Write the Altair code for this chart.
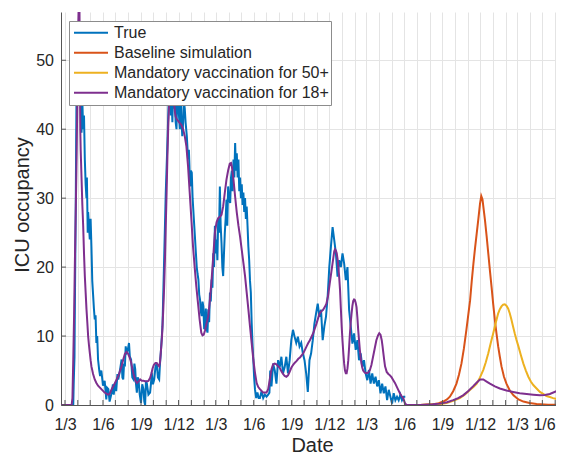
import altair as alt
import pandas as pd

BASE = pd.Timestamp("2020-03-01")

# ---- data (day offsets from 2020-03-01, ICU occupancy) ----
true_day = [-10, 20, 21, 23, 24, 26, 27, 28, 30, 32, 34, 36, 38, 40, 42, 44, 46, 48, 50, 52, 53, 55, 56, 58,
            60, 62, 64, 66, 68, 70, 72, 74, 76, 78, 80, 83, 85, 88, 92, 96, 100, 102, 105, 108, 110, 113,
            116, 118, 121, 124, 127, 129, 133, 137, 139, 141, 143, 145, 147, 149, 152, 155, 157, 160, 163,
            166, 168, 170, 172, 174, 176, 178, 181, 184, 187, 190, 192, 194, 196, 198, 202, 206, 208, 210,
            213, 216, 219, 222, 225, 228, 230, 232, 236, 240, 244, 248, 251, 254, 256, 258, 260, 262, 264,
            266, 268, 270, 272, 274, 276, 278, 280, 282, 284, 286, 288, 290, 292, 295, 298, 300, 303, 305,
            307, 309, 311, 313, 315, 317, 319, 321, 323, 325, 327, 329, 331, 333, 335, 337, 339, 341, 343,
            345, 347, 349, 351, 353, 355, 357, 359, 361, 363, 365, 367, 369, 371, 373, 375, 377, 379, 381,
            383, 385, 387, 389, 391, 393, 395, 397, 400, 402, 404, 406, 408, 410, 412, 414, 416, 418, 420,
            422, 424, 426, 428, 430, 432, 434, 436, 438, 440, 442, 444, 446, 448, 450, 452, 454, 456, 458,
            460, 463, 466, 469, 472, 476, 480, 484, 488, 492, 495, 497, 500, 504, 508, 512, 516, 520, 524,
            528, 532, 536, 540, 544, 548, 552, 556, 560, 564, 568, 572, 576, 580, 584, 588, 592, 596, 600,
            604, 608, 612, 616, 620, 624, 628, 632, 636, 640, 644, 648, 652, 656, 660, 664, 668, 672, 676,
            680, 684, 688, 692, 696, 700, 704, 708, 712, 716, 720, 724, 728, 732, 736, 740, 744, 748, 752,
            756, 760, 764, 768, 772, 776, 780, 784, 788, 792, 796, 800, 804, 808, 812, 816, 820, 824]
true_val = [0, 0, 3, 7, 15, 29, 38, 46, 51, 47, 53, 45, 49, 39.5, 44, 40, 42, 35.6, 32, 30, 33, 25, 28, 26,
            24, 27, 23, 18, 16, 14, 12.4, 13, 9, 10, 6.6, 5, 4.2, 5, 2.8, 3.5, 0.8, 2.5, 2.3, 0.5, 1, 1.8,
            3, 1.5, 3.2, 2, 4.5, 3.7, 5, 6.6, 4, 3.7, 6, 5.6, 8.5, 7.6, 8, 9, 7, 6.6, 4,
            3.7, 6, 5.2, 3, 1.8, 4, 3.7, 1.5, 0.3, 3, 2.3, 0.5, 0, 3.5, 3.2, 1.5, 1.8, 3, 4.7,
            3, 3.7, 5.5, 6.1, 4, 3.7, 6, 7.6, 11.4, 21, 30.8, 38, 44, 46, 42, 45, 41, 46, 43,
            44, 41, 40, 45, 44.6, 42, 40, 47, 41.4, 39, 40.9, 44, 43, 41, 39, 35.6, 37, 31.7, 34,
            33.7, 30, 28, 26, 24, 22, 20, 19, 18.2, 16, 15.3, 13.5, 12.9, 15, 14.3, 11, 12.4, 14, 11,
            10.5, 13.9, 12, 16.3, 15, 18.2, 17, 22, 20, 26, 22, 24, 21, 27, 25, 31.7, 26, 23.5, 20,
            18.7, 22, 25, 27, 29.8, 26, 31.7, 30, 29.3, 33, 34, 31, 35.6, 33, 38, 34, 36.5, 33, 35.6,
            31, 33, 30, 32, 29, 30.8, 28, 30, 27, 28.8, 26, 23, 21, 18, 16.3, 12, 9, 6.6, 4,
            2.3, 1, 1.8, 1, 1, 2, 1, 1.5, 1.2, 1.5, 1.8, 5, 2.7, 6, 5, 3.1, 6.5, 5.5, 7,
            4.6, 5.5, 7, 4.6, 6.5, 9.4, 10.9, 9.9, 9, 9.9, 8.5, 9, 7.5, 6.5, 4.6, 1.9, 6.5, 7.5, 9.4,
            11.8, 13.3, 14.7, 12.8, 13.8, 9.4, 11.4, 12.8, 15.7, 20, 23, 25.8, 23.9, 22, 18.6, 21, 20, 22, 20.5,
            18.1, 20, 13.8, 11.4, 8.9, 10.4, 8, 9.4, 6.5, 7.5, 5.5, 6.5, 4.6, 3.6, 5.1, 3.1, 4.6, 3.1, 4.1,
            2.7, 3.6, 1.7, 3.1, 1.7, 2.7, 0.7, 2.2, 1.2, 0.2, 1.7, 0.7, 1.2, 0.7, 1.5, 0.7, 1.2, 1.2]

vac18_day = [-10, 16, 18, 20, 22, 24, 26, 28, 30, 32, 34, 35, 36, 37, 38, 40, 42, 44, 46, 48, 50, 52, 54, 56,
             58, 60, 62, 64, 68, 72, 76, 80, 88, 96, 104, 108, 113, 117, 121, 125, 129, 133, 137, 141, 145,
             149, 153, 156, 160, 163, 166, 170, 174, 178, 182, 186, 190, 196, 202, 206, 209, 212, 215, 219,
             222, 225, 228, 230, 232, 235, 238, 240, 242, 244, 246, 248, 250, 252, 254, 256, 258, 260, 262,
             264, 266, 268, 271, 274, 278, 282, 286, 290, 294, 298, 302, 306, 310, 314, 318, 322, 326, 330,
             333, 336, 339, 343, 347, 351, 355, 359, 363, 367, 371, 375, 379, 383, 387, 391, 395, 399, 402,
             404, 408, 412, 416, 420, 424, 428, 432, 436, 440, 444, 448, 452, 456, 460, 464, 468, 472, 480,
             488, 492, 496, 500, 504, 508, 512, 516, 520, 524, 528, 532, 536, 540, 544, 548, 552, 556, 561,
             565, 569, 573, 577, 581, 585, 589, 593, 597, 601, 605, 609, 613, 617, 621, 625, 629, 633, 637,
             641, 645, 649, 652, 654, 656, 658, 660, 662, 664, 666, 668, 670, 672, 674, 676, 678, 680, 682,
             684, 686, 688, 690, 692, 694, 696, 698, 700, 702, 704, 706, 708, 710, 712, 714, 716, 718, 720,
             722, 726, 730, 734, 738, 742, 746, 750, 754, 758, 761, 764, 767, 769, 771, 773, 775, 779, 783,
             787, 791, 795, 799, 803, 807, 811, 815, 819, 823, 827, 860, 890, 908, 925, 940, 952, 964, 976,
             988, 996, 1005, 1013, 1021, 1029, 1041, 1053, 1069, 1085, 1101, 1118, 1134, 1150, 1162, 1174,
             1190, 1206]
vac18_val = [0, 0, 1, 6.6, 13, 21, 28, 35.6, 45, 55, 60, 58, 48, 40, 37, 33, 29, 26, 22, 18.7, 16.3, 13.9, 12, 10,
             8.7, 7.6, 6.5, 5.6, 4.5, 3.7, 3.2, 2.8, 2.3, 1.8, 1.5, 1.6, 2.3, 2.7, 3.2, 3.7, 4.2, 4.9, 5.6, 6.6, 7.4,
             7.7, 7.4, 7, 6.2, 5.3, 4.5, 3.6, 3.2, 3.4, 3.7, 3.5, 3.5, 3.4, 3.5, 3.9, 4.5, 5.3, 5.8, 6.1,
             6.1, 5.8, 5.6, 6.2, 7.6, 10, 13.9, 17, 21, 26, 30.8, 36, 40.4, 43.5, 46, 47, 47.3, 46.8, 45.5,
             44, 42.6, 41.8, 41.4, 41.2, 40.9, 40.6, 40, 39, 37.5, 34.6, 30.8, 27, 23, 20, 17.2, 14.8, 12.4, 10.5,
             10.1, 10.2, 10.8, 11.9, 12.9, 15.3, 18.2, 21.6, 25, 26.5, 27.1, 27.3, 27.6, 28.8, 30.8, 32.7, 34, 35, 35.1,
             34.6, 32.7, 30.2, 27.9, 26, 24.4, 22.5, 20.6, 18.7, 16.3, 13.9, 11.4, 9, 6.6, 4.7, 3.2, 2.6, 2.3, 1.8,
             1.8, 2.3, 3.7, 5.2, 5.9, 6.0, 5.9, 5.6, 5.4, 4.9, 4.5, 4.2, 4.1, 4.3, 4.8, 5.4, 5.8, 6.1, 6.4,
             6.7, 6.9, 7.2, 7.5, 8, 8.5, 9, 9.4, 9.9, 10.4, 11.1, 11.8, 12.6, 13.3, 13.6, 13.8, 14.2, 14.7, 15.8,
             17.6, 19.3, 21, 22.3, 22.6, 22.4, 22, 21.2, 20, 18.5, 16.7, 14, 11.4, 9.3, 7.5, 6, 5, 4.6, 4.6,
             5.3, 6.5, 8.4, 10.4, 12, 13.3, 14.4, 15.1, 15.3, 15.2, 14.8, 14.2, 12.7, 10.9, 9.4, 8, 6.9, 6, 5.4,
             5, 4.7, 4.6, 4.7, 5, 5.8, 7, 8.2, 9.4, 10.1, 10.4, 10.2, 9.4, 8.5, 7.5, 6.5, 5.6, 4.8, 4.5,
             4.3, 4, 3.6, 3.2, 2.7, 2.2, 1.7, 1.3, 1, 0.3, 0, 0, 0.1, 0.2, 0.4, 0.7, 1.0, 1.4, 2.0,
             2.7, 3.2, 3.7, 3.7, 3.4, 3.1, 2.7, 2.4, 2.1, 1.9, 1.7, 1.6, 1.5, 1.4, 1.45, 1.6,
             2.0, 2.4]

base_day = [831, 860, 892, 905, 916, 925, 932, 940, 948, 954, 960, 966, 972, 977, 981, 985, 989, 993, 997,
            1001, 1005, 1008, 1011, 1014, 1017, 1021, 1025, 1029, 1033, 1037, 1041, 1045, 1049, 1053, 1057,
            1063, 1069, 1077, 1086, 1098, 1110, 1125, 1142, 1170, 1206]
base_val = [0, 0, 0.1, 0.25, 0.5, 0.8, 1.2, 2, 3.1, 4.4, 6, 8.2, 10.9, 13.3, 15.2, 18, 20.5, 22.8, 24.9,
            27, 29.2, 30.3, 29.8, 28.3, 26.8, 24.5, 22, 19.5, 17.1, 14.6, 12.3, 10.3, 8.5, 7, 5.6,
            4.1, 3.1, 2.1, 1.4, 0.8, 0.5, 0.3, 0.15, 0.05, 0]

vac50_day = [831, 860, 892, 910, 924, 940, 956, 968, 981, 989, 997, 1005, 1013, 1019, 1025, 1031, 1037, 1043,
             1049, 1053, 1057, 1061, 1065, 1069, 1073, 1077, 1081, 1085, 1089, 1093, 1098, 1104, 1110, 1116,
             1122, 1128, 1134, 1142, 1150, 1158, 1166, 1174, 1182, 1194, 1206]
vac50_val = [0, 0, 0.1, 0.15, 0.3, 0.6, 1, 1.5, 2.2, 2.6, 3.1, 4, 5.1, 6.2, 7.5, 9, 10.4, 11.9,
             13.3, 13.9, 14.3, 14.55, 14.6, 14.4, 14, 13.3, 12.4, 11.4, 10.4, 9.5, 8.5, 7.2, 6, 5,
             4.1, 3.4, 2.9, 2.4, 1.9, 1.6, 1.3, 1.15, 1, 0.8, 0.6]

series_names = ["True", "Baseline simulation", "Mandatory vaccination for 50+", "Mandatory vaccination for 18+"]
series_colors = ["#0072BD", "#D95319", "#EDB120", "#7E2F8E"]

y_ticks = [0, 10, 20, 30, 40, 50]
x_domain_days = [-9.7, 1189]
month_starts = pd.date_range("2020-03-01", "2023-06-01", freq="MS")


def to_ms(days):
    return [int((BASE + pd.Timedelta(days=d)).timestamp() * 1000) for d in days]


def ms_of(ts):
    return int(pd.Timestamp(ts).timestamp() * 1000)


frames = []
for name, d, v in zip(series_names,
                      [true_day, base_day, vac50_day, vac18_day],
                      [true_val, base_val, vac50_val, vac18_val]):
    frames.append(pd.DataFrame({"t": to_ms(d), "v": v, "s": name}))
df = pd.concat(frames, ignore_index=True)

month_ms = [ms_of(m) for m in month_starts]
ticks_x = pd.DataFrame({"t": month_ms})
ticks_y = pd.DataFrame({"v": y_ticks})
last_label_ms = month_ms[-1]

FONT = "Liberation Sans"
TXT = "#262626"
W, H = 495, 393

x_scale = alt.Scale(type="utc", domain=to_ms(x_domain_days), nice=False)
y_scale = alt.Scale(domain=[0, 57], nice=False, zero=False)

x_axis = alt.Axis(
    values=month_ms,
    labelExpr="utcmonth(datum.value) % 3 == 2 ? utcFormat(datum.value, '%-d/%-m') : ''",
    labelAlign=alt.condition(f"datum.value >= {last_label_ms}", alt.value("right"), alt.value("center")),
    grid=True, gridColor="#e4e4e4", gridWidth=1,
    ticks=False, domainColor="#555555", domainWidth=1,
    labelFont=FONT, labelFontSize=16, labelColor=TXT, labelPadding=11.5,
    labelOverlap=False, labelFlush=False, labelBound=False,
    title="Date", titleFont=FONT, titleFontSize=20, titleFontWeight="normal", titleColor=TXT,
    titleX=251, titleY=46, titleBaseline="alphabetic", titleAlign="center",
)
y_axis = alt.Axis(
    values=y_ticks,
    grid=True, gridColor="#e4e4e4", gridWidth=1,
    ticks=False, domainColor="#555555", domainWidth=1,
    labelFont=FONT, labelFontSize=16, labelColor=TXT, labelPadding=7.5,
    title="ICU occupancy", titleFont=FONT, titleFontSize=20, titleFontWeight="normal", titleColor=TXT,
    titleX=-33, titleY=H / 2 - 4, titleAngle=270, titleBaseline="alphabetic", titleAlign="center",
)

x_enc = alt.X("t:T", scale=x_scale, axis=x_axis)
y_enc = alt.Y("v:Q", scale=y_scale, axis=y_axis)

lines = alt.Chart(df).mark_line(strokeWidth=2, clip=True).encode(
    x=x_enc,
    y=y_enc,
    color=alt.Color(
        "s:N",
        scale=alt.Scale(domain=series_names, range=series_colors),
        legend=alt.Legend(
            orient="none", legendX=8, legendY=9, title=None,
            symbolType="stroke", symbolSize=1156, symbolStrokeWidth=2, clipHeight=19.5,
            symbolOffset=2, labelOffset=5, rowPadding=0, padding=2,
            labelFont=FONT, labelFontSize=16, labelColor=TXT, labelLimit=400,
            fillColor="white", strokeColor="#8c8c8c", zindex=2,
        ),
    ),
)

xticks = alt.Chart(ticks_x).mark_rule(color="#555555", strokeWidth=1).encode(
    x=x_enc, y=alt.value(H), y2=alt.value(H - 5)
)
yticks = alt.Chart(ticks_y).mark_rule(color="#555555", strokeWidth=1).encode(
    y=y_enc, x=alt.value(0), x2=alt.value(5)
)

chart = alt.layer(lines, xticks, yticks).properties(
    width=W, height=H,
    autosize=alt.AutoSizeParams(type="none"),
    padding={"left": 53, "top": 4, "right": 0, "bottom": 52},
    background="white",
).configure_view(stroke=None)

chart.save("out.html", embed_options={"renderer": "svg", "actions": False})
